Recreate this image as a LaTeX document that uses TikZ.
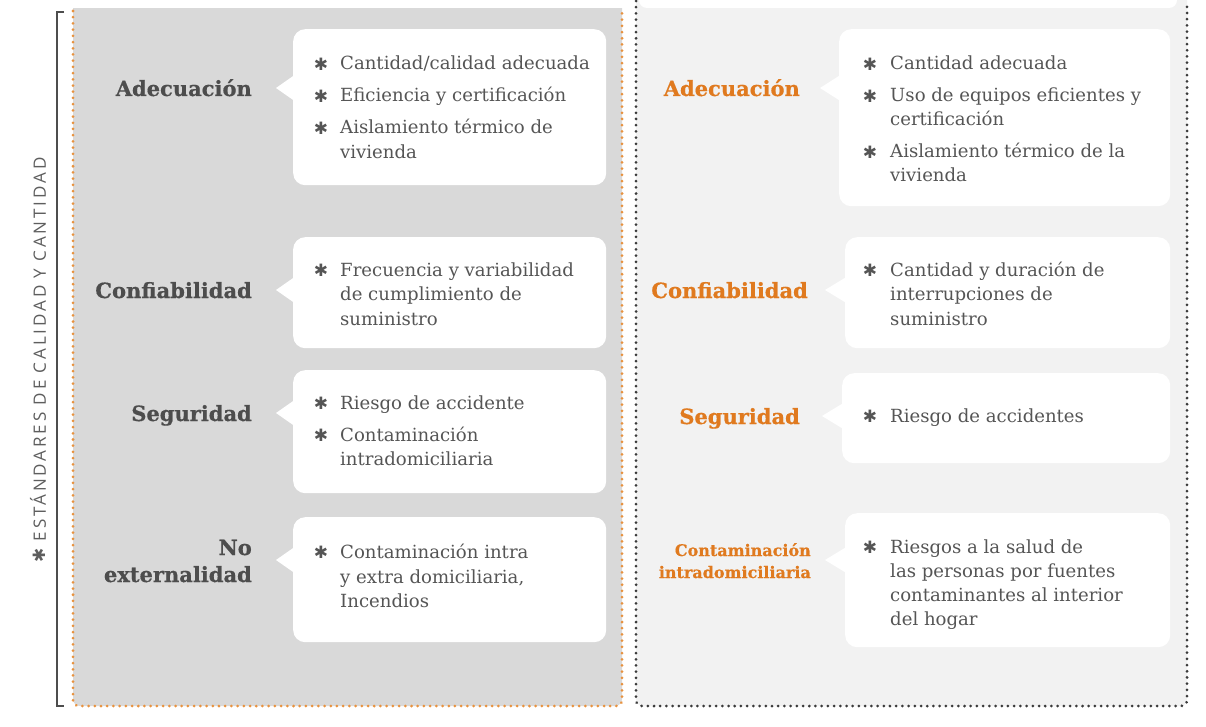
\documentclass[tikz,border=0pt]{standalone}
\usepackage{fontspec}
\setmainfont{DejaVu Serif}
\newfontfamily\symfont{DejaVu Sans}
\newfontfamily\headfont[FakeBold=0.6]{DejaVu Serif Bold}
\newfontfamily\sidefont[LetterSpace=17]{Open Sans}
\definecolor{leftgray}{HTML}{D9D9D9}
\definecolor{rightgray}{HTML}{F2F2F2}
\definecolor{orangeh}{HTML}{E07A1F}
\definecolor{orangedot}{HTML}{E8923E}
\definecolor{darkdot}{HTML}{3A3A3A}
\definecolor{headgray}{HTML}{4D4D4D}
\definecolor{bodygray}{HTML}{555555}
\definecolor{sidegray}{HTML}{5E5E5E}
\newcounter{lnc}
\newcounter{bnc}
\newcommand{\tline}[3]{\stepcounter{lnc}\node[bodytxt, anchor=base west] (t\thelnc) at (#1,#2) {#3};}
\newcommand{\bul}[2]{\stepcounter{bnc}\node[bulletstar] (s\thebnc) at (#1,#2-6) {✱};}
\newcommand{\bubble}[7]{%
  \node[bubble, anchor=north west, minimum width={#4-#2}, minimum height={#5-#3}] (#1) at (#2,#3) {};
  \fill[white] (#2+3,#6-14) -- (#7,#6) -- (#2+3,#6+14) -- cycle;}
\begin{document}
\begin{tikzpicture}[x=1pt,y=-1pt,
  bubble/.style={fill=white, draw=none, rounded corners=12pt, inner sep=0pt},
  bodytxt/.style={font=\fontsize{18.1}{25}\selectfont, text=bodygray, inner sep=0pt},
  bulletstar/.style={font=\symfont\bfseries\fontsize{17}{17}\selectfont, text=bodygray, inner sep=0pt, anchor=center},
  headl/.style={font=\headfont\fontsize{21}{25}\selectfont, text=headgray, inner sep=0pt, anchor=base east},
  headr/.style={font=\headfont\fontsize{21}{25}\selectfont, text=orangeh, inner sep=0pt, anchor=base east},
  headrs/.style={font=\headfont\fontsize{16}{22}\selectfont, text=orangeh, inner sep=0pt, anchor=base east},
  odots/.style={draw=orangedot, line width=3pt, line cap=round, dash pattern=on 0.01pt off 6.2pt},
  ddots/.style={draw=darkdot, line width=3pt, line cap=round, dash pattern=on 0.01pt off 6.2pt},
  sidetxt/.style={font=\sidefont\fontsize{17}{17}\selectfont, text=sidegray, inner sep=0pt}]
\useasboundingbox (0,0) rectangle (1206,727);
\fill[white] (0,0) rectangle (1206,727);

% left panel
\fill[leftgray, rounded corners=7pt] (73,-20) -- (73,706) -- (622,706) -- (622,-20) -- cycle;
% right panel
\fill[rightgray, rounded corners=7pt] (636,-20) -- (636,706) -- (1187,706) -- (1187,-20) -- cycle;
\fill[white] (60,-30) rectangle (630,8);
\fill[white, rounded corners=8pt] (639,-30) rectangle (1177,8);

\draw[odots, rounded corners=6pt] (73,11) -- (73,706) -- (622,706) -- (622,11);
\draw[ddots, rounded corners=6pt] (636,1) -- (636,706) -- (1187,706) -- (1187,1);

% bracket
\draw[headgray, line width=1.6pt] (64,12) -- (57,12) -- (57,706) -- (64,706);
\node[sidetxt, rotate=90] (side) at (38,360) {{\symfont\bfseries ✱}\ ESTÁNDARES DE CALIDAD Y CANTIDAD};

% bubbles
\bubble{L1}{293}{29}{606}{185}{88}{276}
\bubble{L2}{293}{237}{606}{348}{290}{276}
\bubble{L3}{293}{370}{606}{493}{413}{276}
\bubble{L4}{293}{517}{606}{642}{560}{276}
\bubble{R1}{839}{29}{1170}{206}{88}{820}
\bubble{R2}{845}{237}{1170}{348}{290}{825}
\bubble{R3}{842}{373}{1170}{463}{416}{822}
\bubble{R4}{845}{513}{1170}{647}{560}{825}

% left headings
\node[headl] (hl1) at (252,96) {Adecuación};
\node[headl] (hl2) at (252,298) {Confiabilidad};
\node[headl] (hl3) at (252,421) {Seguridad};
\node[headl] (hl4a) at (252,555) {No};
\node[headl] (hl4b) at (252,582) {externalidad};

% right headings
\node[headr] (hr1) at (800,96) {Adecuación};
\node[headr] (hr2) at (808,298) {Confiabilidad};
\node[headr] (hr3) at (800,424) {Seguridad};
\node[headrs] (hr4a) at (811,556) {Contaminación};
\node[headrs] (hr4b) at (811,578) {intradomiciliaria};

% left texts
\bul{321}{70}\tline{340}{70}{Cantidad/calidad adecuada}
\bul{321}{102}\tline{340}{102}{Eficiencia y certificación}
\bul{321}{134}\tline{340}{134}{Aislamiento térmico de}
\tline{340}{159}{vivienda}

\bul{321}{276}\tline{340}{276}{Frecuencia y variabilidad}
\tline{340}{300}{de cumplimiento de}
\tline{340}{325}{suministro}

\bul{321}{409}\tline{340}{409}{Riesgo de accidente}
\bul{321}{441}\tline{340}{441}{Contaminación}
\tline{340}{465}{intradomiciliaria}

\bul{321}{558}\tline{340}{558}{Contaminación intra}
\tline{340}{583}{y extra domiciliaria,}
\tline{340}{607}{Incendios}

% right texts
\bul{870}{70}\tline{890}{70}{Cantidad adecuada}
\bul{870}{102}\tline{890}{102}{Uso de equipos eficientes y}
\tline{890}{126}{certificación}
\bul{870}{158}\tline{890}{158}{Aislamiento térmico de la}
\tline{890}{182}{vivienda}

\bul{870}{276}\tline{890}{276}{Cantidad y duración de}
\tline{890}{300}{interrupciones de}
\tline{890}{325}{suministro}

\bul{870}{422}\tline{890}{422}{Riesgo de accidentes}

\bul{870}{553}\tline{890}{553}{Riesgos a la salud de}
\tline{890}{577}{las personas por fuentes}
\tline{890}{601}{contaminantes al interior}
\tline{890}{625}{del hogar}
\end{tikzpicture}
\end{document}
